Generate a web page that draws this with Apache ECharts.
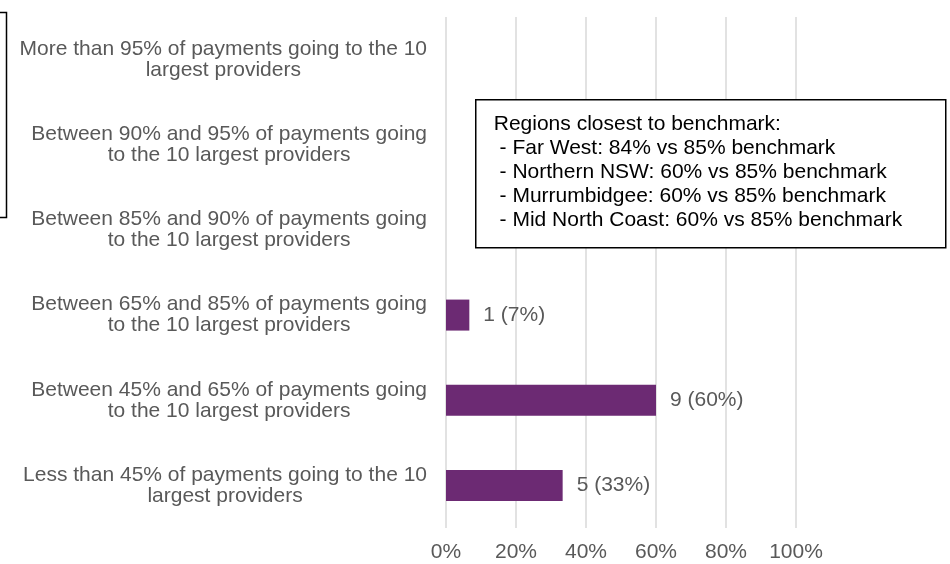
<!DOCTYPE html>
<html>
<head>
<meta charset="utf-8">
<script src="https://cdn.jsdelivr.net/npm/echarts@6/dist/echarts.min.js"></script>
<style>
html,body{margin:0;padding:0;background:#fff;}
#chart{width:950px;height:564px;}
</style>
</head>
<body>
<div id="chart"></div>
<script>
var categories = [
  "More than 95% of payments going to the 10\nlargest providers",
  "Between 90% and 95% of payments going\nto the 10 largest providers",
  "Between 85% and 90% of payments going\nto the 10 largest providers",
  "Between 65% and 85% of payments going\nto the 10 largest providers",
  "Between 45% and 65% of payments going\nto the 10 largest providers",
  "Less than 45% of payments going to the 10\nlargest providers"
];
var regionCounts = [0, 0, 0, 1, 9, 5];
var regionPercents = [0, 0, 0, 6.67, 60, 33.33];
var xTicks = [0, 20, 40, 60, 80, 100];
var noteLines = [
  "Regions closest to benchmark:",
  " - Far West: 84% vs 85% benchmark",
  " - Northern NSW: 60% vs 85% benchmark",
  " - Murrumbidgee: 60% vs 85% benchmark",
  " - Mid North Coast: 60% vs 85% benchmark"
];

var FONT = "'Liberation Sans', Arial, sans-serif";
var chart = echarts.init(document.getElementById('chart'), null, {renderer: 'canvas'});

var option = {
  backgroundColor: '#ffffff',
  animation: false,
  textStyle: {fontFamily: FONT},
  grid: {left: 446, right: 154, top: 17, bottom: 36, containLabel: false},
  xAxis: {
    type: 'value',
    min: xTicks[0],
    max: xTicks[xTicks.length - 1],
    interval: xTicks[1] - xTicks[0],
    axisLine: {show: false},
    axisTick: {show: false},
    splitLine: {show: true, lineStyle: {color: '#d9d9d9', width: 1.5}},
    axisLabel: {
      formatter: '{value}%',
      color: '#595959',
      fontSize: 21,
      fontFamily: FONT,
      margin: 14
    }
  },
  yAxis: {
    type: 'category',
    inverse: true,
    data: categories,
    axisLine: {show: false},
    axisTick: {show: false},
    splitLine: {show: false},
    axisLabel: {
      align: 'right',
      margin: 19,
      formatter: function (v) {
        return v.split('\n').map(function (s) { return '{c|' + s + '}'; }).join('\n');
      },
      rich: {
        c: {
          align: 'center',
          color: '#595959',
          fontSize: 21,
          lineHeight: 21,
          fontFamily: FONT
        }
      }
    }
  },
  series: [{
    type: 'bar',
    data: regionPercents,
    barWidth: 31,
    itemStyle: {color: '#6C2A73'},
    label: {
      show: true,
      position: 'right',
      distance: 14,
      color: '#595959',
      fontSize: 21,
      fontFamily: FONT,
      formatter: function (p) {
        if (!regionCounts[p.dataIndex]) return '';
        return regionCounts[p.dataIndex] + ' (' + Math.round(p.value) + '%)';
      }
    }
  }],
  graphic: [
    {
      type: 'rect',
      left: -100,
      top: 10,
      z: 100,
      shape: {x: 0, y: 0, width: 104, height: 205},
      style: {fill: 'none', stroke: '#000000', lineWidth: 1.5},
      silent: true
    },
    {
      type: 'group',
      left: 475,
      top: 99,
      z: 100,
      children: [
        {
          type: 'rect',
          z: 100,
          shape: {x: 0, y: 0, width: 470, height: 148},
          style: {fill: '#ffffff', stroke: '#000000', lineWidth: 1.5}
        },
        {
          type: 'text',
          z: 101,
          left: 18,
          top: 12,
          style: {
            text: noteLines.join('\n'),
            fill: '#000000',
            fontSize: 21,
            lineHeight: 24,
            fontFamily: FONT
          }
        }
      ]
    }
  ]
};
chart.setOption(option);
</script>
</body>
</html>
